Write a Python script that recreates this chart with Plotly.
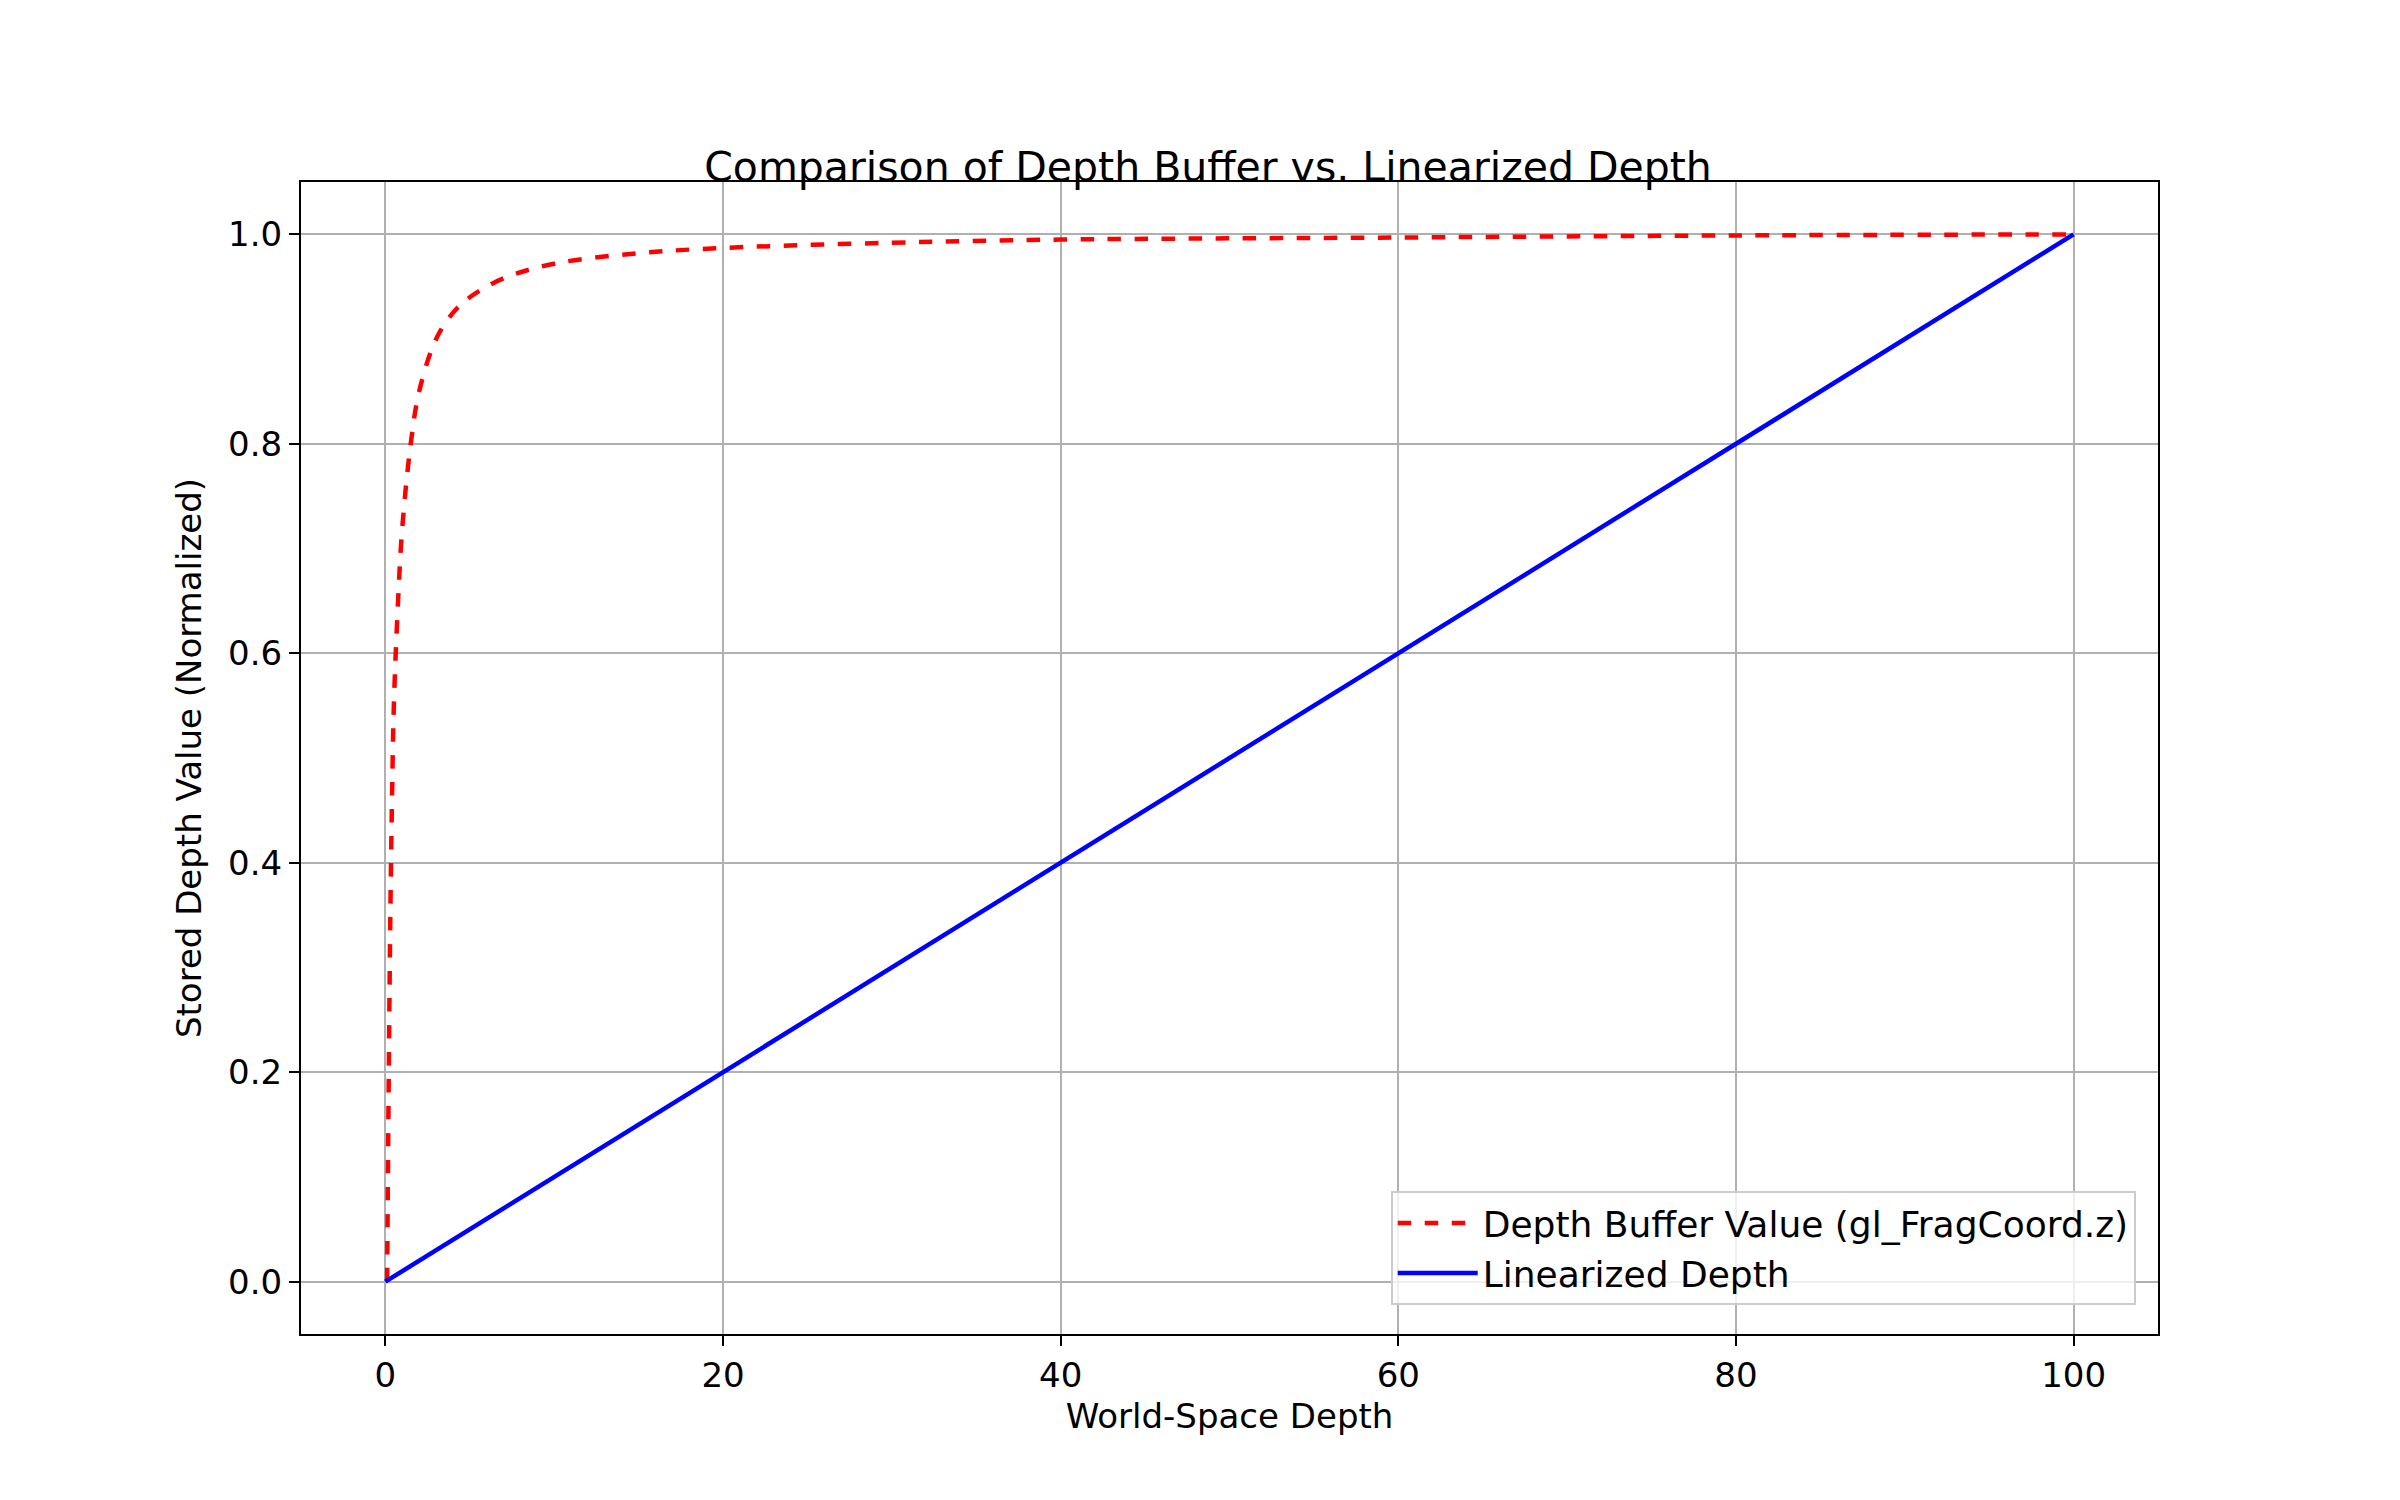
import plotly.graph_objects as go

# readings from the reference chart
depth_x = [0.1, 0.2, 0.3, 0.4, 0.5, 0.75, 1, 1.5, 2, 3, 4, 5, 7, 10, 15, 20, 30, 40, 60, 80, 100]
depth_y = [0.0, 0.2, 0.36, 0.47, 0.55, 0.65, 0.72, 0.8, 0.85, 0.9, 0.925, 0.94, 0.958, 0.972, 0.982, 0.987, 0.992, 0.995, 0.997, 0.999, 1.0]
linear_x = [0, 100]
linear_y = [0.0, 1.0]
x_ticks = [0, 20, 40, 60, 80, 100]
y_ticks = [0.0, 0.2, 0.4, 0.6, 0.8, 1.0]

fig = go.Figure()
fig.add_trace(go.Scatter(x=depth_x, y=depth_y, mode="lines", line_shape="spline",
                         name="Depth Buffer Value (gl_FragCoord.z)",
                         line=dict(color="red", width=4.5, dash="dash")))
fig.add_trace(go.Scatter(x=linear_x, y=linear_y, mode="lines", name="Linearized Depth",
                         line=dict(color="blue", width=4.5)))

axis = dict(showline=True, linecolor="black", linewidth=2, mirror=True,
            showgrid=True, gridcolor="#b0b0b0", gridwidth=2, zeroline=False,
            ticks="outside", ticklen=10, tickwidth=2, tickcolor="black",
            tickfont=dict(size=34, color="black"))
fig.update_xaxes(range=[-5, 105], tickvals=x_ticks, ticktext=[str(t) for t in x_ticks],
                 title=dict(text="World-Space Depth", font=dict(size=34, color="black"), standoff=10), **axis)
fig.update_yaxes(range=[-0.05, 1.05], tickvals=y_ticks, ticktext=[f"{t:.1f}" for t in y_ticks],
                 title=dict(text="Stored Depth Value (Normalized)", font=dict(size=34, color="black"), standoff=16), **axis)

fig.update_layout(
    width=2400, height=1500,
    paper_bgcolor="white", plot_bgcolor="white",
    font=dict(family="DejaVu Sans", color="black"),
    title=dict(text="Comparison of Depth Buffer vs. Linearized Depth", x=0.5, xanchor="center",
               y=0.885, yanchor="bottom", font=dict(size=41, color="black")),
    margin=dict(l=293, r=250, t=174, b=174),
    legend=dict(x=0.988, y=0.025, xanchor="right", yanchor="bottom",
                bgcolor="rgba(255,255,255,0.8)", bordercolor="#cccccc", borderwidth=2,
                itemwidth=80, font=dict(size=36, color="black")),
)

fig.write_html("out.html")
